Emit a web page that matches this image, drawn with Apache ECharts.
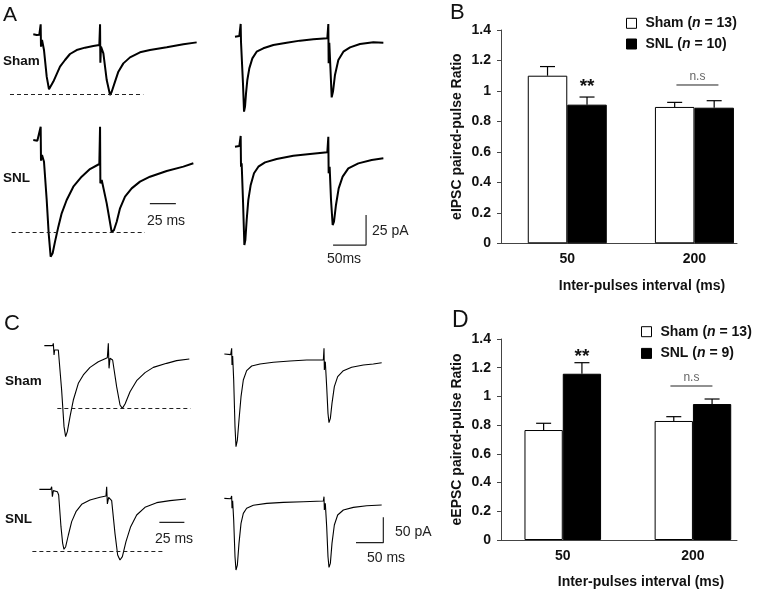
<!DOCTYPE html>
<html><head><meta charset="utf-8">
<script src="https://cdn.jsdelivr.net/npm/echarts@6.0.0/dist/echarts.min.js"></script>
<style>html,body{margin:0;padding:0;background:#fff}#c{width:758px;height:591px}</style>
</head><body><div id="c"></div>
<script>
// ---------------- DATA ----------------
// Paired-pulse bar charts
const intervals = ['50', '200'];
const ratioTicks = ['0', '0.2', '0.4', '0.6', '0.8', '1', '1.2', '1.4'];
const ipscSham = [1.10, 0.895];
const ipscShamErr = [0.06, 0.03];
const ipscSnl = [0.91, 0.89];
const ipscSnlErr = [0.05, 0.046];
const epscSham = [0.766, 0.829];
const epscShamErr = [0.047, 0.03];
const epscSnl = [1.158, 0.947];
const epscSnlErr = [0.077, 0.035];
const nIpsc = [13, 10];
const nEpsc = [13, 9];
const sigIpsc = ['**', 'n.s'];
const sigEpsc = ['**', 'n.s'];

// Example traces: [time (ms) from first stimulus, current (pA) from baseline]
const aShortSham = [[-7.1,0],[-3.8,-0.6],[-1.3,-0.3],[0,8.3],[0.3,-10.3],[1.3,-4.7],[3.2,-13.1],[5.8,-35.3],[8.0,-45.8],[9.6,-45],[12.2,-39.4],[15.4,-33.1],[18.6,-26.9],[23.4,-21.4],[28.2,-16.4],[34.6,-13.1],[42.6,-11.1],[50.6,-9.7],[56.4,-8.9],[57.1,8.3],[57.4,-23.6],[58.0,-10.3],[60.3,-15.8],[63.5,-38.1],[66.7,-50.6],[68.3,-47.8],[71.5,-39.4],[74.7,-31.1],[79.5,-24.2],[85.9,-19.2],[95.5,-15],[105.1,-13.1],[121.2,-10.8],[137.2,-8.3],[150,-6.7]];
const aShortSnl = [[-7.1,0],[-3.2,-0.6],[-1.3,-0.3],[0,11.1],[0.3,-17.2],[1.3,-12.5],[3.2,-18.1],[5.8,-50],[7.7,-77.8],[9.6,-97.2],[11.5,-94.4],[13.8,-84.7],[17,-72.2],[20.2,-61.1],[25,-50],[31.4,-38.9],[39.4,-30.6],[47.4,-24.2],[56.4,-20],[57.1,11.1],[57.4,-36.1],[58.7,-33.3],[60.3,-34.7],[63.5,-52.8],[68.3,-76.9],[70.5,-75],[73.1,-68.1],[76.3,-56.9],[81.1,-47.2],[87.5,-40.3],[95.5,-34.7],[105.1,-30.6],[121.2,-25.8],[137.2,-22.2],[146.8,-19.4]];
const aLongSham = [[-8.6,0],[-2,0.6],[0,10.6],[0.5,-4.2],[2,-5.6],[3.5,-38.9],[5.1,-62.5],[6.6,-58.3],[8.1,-47.2],[10.1,-36.1],[13.1,-26.4],[17.7,-18.1],[24.2,-12.5],[34.3,-9.7],[49.5,-6.9],[69.7,-5],[89.9,-3.3],[110.1,-2.2],[131.3,-1.4],[132.8,10.6],[133.3,-22.2],[134.3,-5],[135.9,-25],[137.9,-50.6],[139.9,-45.8],[142.9,-31.9],[148,-19.4],[155.6,-12.5],[165.7,-8.9],[180.8,-6.1],[201,-4.7],[216.2,-5]];
const aLongSnl = [[-8.6,0],[-2,0.6],[0,8.9],[0.5,-16.7],[1.5,-13.9],[3.5,-44.4],[5.6,-81.9],[7.1,-77.8],[9.1,-61.1],[11.6,-44.4],[15.2,-31.9],[20.2,-22.2],[26.8,-16.7],[36.9,-13.1],[54.5,-10.3],[79.8,-7.5],[105.1,-6.1],[131.3,-4.7],[132.8,8.3],[133.3,-22.2],[134.8,-16.7],[136.9,-44.4],[139.4,-65.3],[141.4,-62.5],[144.4,-48.6],[148.5,-34.7],[154.5,-25],[163.1,-18.1],[178.3,-13.9],[198.5,-11.1],[216.2,-9.7]];
const cShortSham = [[-9,0],[-0.7,0],[0,4.6],[0.7,-18.4],[1.3,-8.5],[5,-8.5],[6,-11.8],[8.3,-87.3],[10.7,-159.4],[12.3,-179.1],[14,-169.3],[16.7,-139.8],[20,-107],[25,-74.1],[30,-57.7],[36.7,-42.7],[45,-31.5],[54,-23.6],[55,4.6],[55.7,-44.6],[56.7,-24.9],[59.3,-28.2],[63.3,-80.7],[66.7,-116.8],[69,-123.4],[71.7,-114.8],[76.7,-90.6],[83.3,-68.9],[91.7,-53.1],[100,-42.7],[113.3,-34.8],[123.3,-29.5],[136,-26.2]];
const cShortSnl = [[-12.3,0],[-1,0],[0,5.2],[0.7,-14.4],[1.7,-2.6],[5.7,-4.6],[7,-11.2],[9.3,-73.5],[11,-106.3],[12.3,-118.1],[14,-112.9],[16.7,-89.9],[20,-63.6],[24.3,-44],[30,-29.5],[38.3,-21],[48.3,-15.7],[54.3,-13.1],[55,5.2],[55.7,-28.9],[57,-15.7],[60,-22.3],[63.3,-86.6],[66,-129.3],[68.3,-139.1],[70.7,-132.5],[74.3,-103],[79,-73.5],[85,-50.5],[93.3,-35.4],[105,-26.2],[118.3,-22.3],[134.3,-19]];
const cLongSham = [[-13.4,0],[-1.8,-1.3],[0,11.2],[0.6,-21.7],[1.8,-3.9],[3.7,-51.3],[6.1,-143.4],[7.9,-182.9],[10.4,-169.7],[13.4,-130.3],[17.1,-84.2],[21.3,-51.3],[27.4,-32.9],[36.6,-23.7],[51.8,-19.7],[76.2,-16.4],[106.7,-13.8],[137.2,-11.8],[167.7,-11.8],[168.9,11.2],[169.5,-31.6],[171.3,-15.1],[173.8,-64.5],[176.2,-117.1],[178,-135.5],[180.5,-126.9],[183.5,-97.4],[187.8,-64.5],[193.9,-44.7],[204.3,-32.9],[219.5,-26.3],[240.9,-21.7],[259.1,-19.7],[274.4,-17.1]];
const cLongSnl = [[-13.4,0],[-1.8,-0.7],[0,4.6],[0.6,-19.7],[1.8,-4.6],[3.7,-42.8],[6.1,-115.1],[7.9,-141.4],[10.4,-131.6],[13.4,-88.8],[17.1,-49.3],[21.3,-29.6],[27.4,-19.7],[39.6,-13.8],[64,-9.9],[94.5,-7.9],[131.1,-6.6],[167.7,-5.3],[168.9,3.3],[169.5,-23],[171.3,-9.9],[173.8,-55.9],[176.2,-115.1],[178,-136.2],[180.5,-128.3],[183.5,-88.8],[187.8,-52.6],[193.9,-32.9],[204.3,-23],[222.6,-17.8],[247,-14.5],[274.4,-13.2]];

// Reference (dashed) levels: [pA level, from ms, to ms]
const dashAShortSham = [-50, -29.5, 98.7];
const dashAShortSnl = [-76.9, -27.9, 100.3];
const dashCShortSham = [-123.4, 4, 137.3];
const dashCShortSnl = [-122.7, -19.3, 113.3];

// Scale bars [ms, pA]
const scaleAShort = [[105, -53], [130, -53]];
const scaleALong = [[140, -82], [190, -82], [190, -57]];
const scaleCShort = [[107.7, -65], [132.7, -65]];
const scaleCLong = [[227.4, -87.5], [277.4, -87.5], [277.4, -37.5]];

// ---------------- BUILD ----------------
const FONT = 'Liberation Sans, Arial, Helvetica, sans-serif';
const grids = [], xAxes = [], yAxes = [], series = [], legends = [];

function traceGrid(L) {
  const g = grids.length;
  grids.push({left: L.xStim + L.t[0] * L.pxMs, top: L.yBase - L.i[1] * L.pxPA,
    width: (L.t[1] - L.t[0]) * L.pxMs, height: (L.i[1] - L.i[0]) * L.pxPA});
  xAxes.push({type: 'value', gridIndex: g, min: L.t[0], max: L.t[1], show: false});
  yAxes.push({type: 'value', gridIndex: g, min: L.i[0], max: L.i[1], show: false});
  return g;
}
function trace(g, data, width, dash) {
  const s = {type: 'line', xAxisIndex: g, yAxisIndex: g, data: data, showSymbol: false, symbol: 'none',
    silent: true, lineStyle: {color: '#000', width: width}, z: 3};
  if (dash) {
    s.markLine = {silent: true, symbol: ['none', 'none'], label: {show: false},
      lineStyle: {color: '#222', type: [4, 3], width: 1.2},
      data: [[{coord: [dash[1], dash[0]]}, {coord: [dash[2], dash[0]]}]]};
  }
  series.push(s);
}
function scaleBar(g, pts) {
  series.push({type: 'line', xAxisIndex: g, yAxisIndex: g, data: pts, showSymbol: false, symbol: 'none',
    silent: true, lineStyle: {color: '#222', width: 1.2}});
}

// Panel A (eIPSC)
const gAS1 = traceGrid({xStim: 40.67, yBase: 34.33, pxMs: 1.04, pxPA: 1.2, t: [-35, 155], i: [-60, 12]});
const gAS2 = traceGrid({xStim: 40.67, yBase: 140, pxMs: 1.04, pxPA: 1.2, t: [-35, 155], i: [-105, 15]});
const gAL1 = traceGrid({xStim: 240.67, yBase: 36.67, pxMs: 0.66, pxPA: 1.2, t: [-15, 225], i: [-70, 15]});
const gAL2 = traceGrid({xStim: 240.67, yBase: 146.67, pxMs: 0.66, pxPA: 1.2, t: [-15, 225], i: [-90, 15]});
trace(gAS1, aShortSham, 2, dashAShortSham);
trace(gAS2, aShortSnl, 2, dashAShortSnl);
trace(gAL1, aLongSham, 2);
trace(gAL2, aLongSnl, 2);
scaleBar(gAS2, scaleAShort);
scaleBar(gAL2, scaleALong);

// Panel C (eEPSC)
const gCS1 = traceGrid({xStim: 53.33, yBase: 345.67, pxMs: 1.0, pxPA: 0.508, t: [-25, 145], i: [-190, 10]});
const gCS2 = traceGrid({xStim: 51.67, yBase: 489.33, pxMs: 1.0, pxPA: 0.508, t: [-25, 145], i: [-150, 10]});
const gCL1 = traceGrid({xStim: 231.67, yBase: 354, pxMs: 0.5467, pxPA: 0.507, t: [-20, 290], i: [-195, 15]});
const gCL2 = traceGrid({xStim: 231.67, yBase: 498.33, pxMs: 0.5467, pxPA: 0.507, t: [-20, 290], i: [-150, 15]});
trace(gCS1, cShortSham, 1.1, dashCShortSham);
trace(gCS2, cShortSnl, 1.1, dashCShortSnl);
trace(gCL1, cLongSham, 1.1);
trace(gCL2, cLongSnl, 1.1);
scaleBar(gCS2, scaleCShort);
scaleBar(gCL2, scaleCLong);

// Bar panels
function barPanel(P) {
  const ga = grids.length;
  grids.push(P.axesGrid);
  xAxes.push({type: 'category', gridIndex: ga, data: intervals, axisLine: {lineStyle: {color: '#444', width: 1}},
    axisTick: {show: false}, axisLabel: {show: false}});
  yAxes.push({type: 'value', gridIndex: ga, min: 0, max: 1.4, interval: 0.2,
    name: P.yName, nameLocation: 'middle', nameGap: 37,
    nameTextStyle: {fontFamily: FONT, fontSize: 14, fontWeight: 'bold', color: '#111'},
    axisLine: {show: true, lineStyle: {color: '#444', width: 1}},
    axisTick: {show: true, length: 4, lineStyle: {color: '#444'}},
    axisLabel: {margin: 10, fontFamily: FONT, fontSize: 14, fontWeight: 'bold', color: '#111',
      formatter: (v, i) => ratioTicks[i]},
    splitLine: {show: false}});
  const gb = grids.length;
  grids.push(P.barsGrid);
  xAxes.push({type: 'category', gridIndex: gb, data: intervals, axisLine: {show: false}, axisTick: {show: false},
    axisLabel: {margin: 9, fontFamily: FONT, fontSize: 14, fontWeight: 'bold', color: '#111'}});
  yAxes.push({type: 'value', gridIndex: gb, min: 0, max: 1.4, show: false});
  const bw = P.bw;
  series.push({type: 'bar', name: P.key + 'Sham', xAxisIndex: gb, yAxisIndex: gb, data: P.sham, barWidth: bw, barGap: '0%',
    itemStyle: {color: '#fff', borderColor: '#000', borderWidth: 1}});
  series.push({type: 'bar', name: P.key + 'SNL', xAxisIndex: gb, yAxisIndex: gb, data: P.snl, barWidth: bw, barGap: '0%',
    itemStyle: {color: '#000', borderColor: '#000', borderWidth: 1}});
  function errSeries(means, errs, off) {
    series.push({type: 'custom', xAxisIndex: gb, yAxisIndex: gb, clip: false, silent: true, z: 4,
      data: means.map((m, k) => [k, m, errs[k]]),
      renderItem: (params, api) => {
        const c = api.value(0), m = api.value(1), e = api.value(2);
        const p0 = api.coord([c, m]), p1 = api.coord([c, m + e]);
        const x = p0[0] + off;
        const st = {stroke: '#000', lineWidth: 1.2};
        return {type: 'group', children: [
          {type: 'line', shape: {x1: x, y1: p0[1], x2: x, y2: p1[1]}, style: st},
          {type: 'line', shape: {x1: x - 7.5, y1: p1[1], x2: x + 7.5, y2: p1[1]}, style: st}]};
      }});
  }
  errSeries(P.sham, P.shamErr, -bw / 2);
  errSeries(P.snl, P.snlErr, bw / 2);
  series.push({type: 'custom', xAxisIndex: gb, yAxisIndex: gb, clip: false, silent: true, z: 5,
    data: [[0, P.snl[0] + P.snlErr[0]], [1, Math.max(P.sham[1] + P.shamErr[1], P.snl[1] + P.snlErr[1])]],
    renderItem: (params, api) => {
      const p = api.coord([api.value(0), api.value(1)]);
      if (params.dataIndex === 0) {
        return {type: 'text', x: p[0] + bw / 2, y: p[1] - P.starGap,
          style: {text: P.sig[0], fontSize: 19, fontWeight: 'bold', fontFamily: FONT, fill: '#111',
            align: 'center', verticalAlign: 'middle'}};
      }
      const y = p[1] - P.nsGap;
      return {type: 'group', children: [
        {type: 'line', shape: {x1: p[0] - 21 + P.nsShift, y1: y, x2: p[0] + 21 + P.nsShift, y2: y}, style: {stroke: '#222', lineWidth: 1}},
        {type: 'text', x: p[0] + P.nsShift, y: y - 8.5, style: {text: P.sig[1], fontSize: 12, fontFamily: FONT, fill: '#666',
          align: 'center', verticalAlign: 'middle'}}]};
    }});
  legends.push({orient: 'vertical', left: P.legLeft, top: P.legTop, padding: 0, itemWidth: 10, itemHeight: 10, itemGap: P.legGap,
    icon: 'rect', selectedMode: false, data: [P.key + 'Sham', P.key + 'SNL'],
    itemStyle: {borderWidth: 1},
    formatter: name => name.endsWith('Sham') ? '{t| Sham (}{i|n}{t| = ' + P.n[0] + ')}' : '{t| SNL (}{i|n}{t| = ' + P.n[1] + ')}',
    textStyle: {fontFamily: FONT, fontSize: 14, fontWeight: 'bold', color: '#111',
      rich: {t: {fontFamily: FONT, fontSize: 14, fontWeight: 'bold', color: '#111'},
             i: {fontFamily: FONT, fontSize: 14, fontWeight: 'bold', fontStyle: 'italic', color: '#111'}}}});
}

barPanel({key: 'B', yName: 'eIPSC paired-pulse Ratio', sham: ipscSham, shamErr: ipscShamErr, snl: ipscSnl, snlErr: ipscSnlErr,
  n: nIpsc, sig: sigIpsc, bw: 39.5, starGap: 10, nsGap: 15.7, nsShift: 3,
  axesGrid: {left: 501, top: 30, width: 236, height: 213.3},
  barsGrid: {left: 503.7, top: 30, width: 255.7, height: 213.3},
  legLeft: 626, legTop: 16.3, legGap: 6.7});
barPanel({key: 'D', yName: 'eEPSC paired-pulse Ratio', sham: epscSham, shamErr: epscShamErr, snl: epscSnl, snlErr: epscSnlErr,
  n: nEpsc, sig: sigEpsc, bw: 38.3, starGap: 6, nsGap: 13, nsShift: -1.5,
  axesGrid: {left: 501, top: 339, width: 236, height: 201},
  barsGrid: {left: 497.7, top: 339, width: 262.7, height: 201},
  legLeft: 641, legTop: 324.7, legGap: 7.7});

// Text annotations
function txt(text, x, y, size, opts) {
  opts = opts || {};
  return {type: 'text', x: x, y: y, silent: true, z: 10,
    style: {text: text, fontSize: size, fontFamily: FONT, fontWeight: opts.bold ? 'bold' : 'normal',
      fill: opts.color || '#111', align: opts.align || 'left', verticalAlign: 'middle'}};
}
const graphics = [
  txt('A', 3, 15, 21), txt('B', 450, 13, 22), txt('C', 4, 324, 22), txt('D', 452, 321, 23),
  txt('Sham', 3, 61, 13.5, {bold: true}), txt('SNL', 3, 178, 13.5, {bold: true}),
  txt('Sham', 5, 381, 13.5, {bold: true}), txt('SNL', 5, 519, 13.5, {bold: true}),
  txt('25 ms', 166, 221, 14, {align: 'center', color: '#222'}),
  txt('25 pA', 372, 231, 14, {color: '#222'}),
  txt('50ms', 344, 259, 14, {align: 'center', color: '#222'}),
  txt('25 ms', 174, 539, 14, {align: 'center', color: '#222'}),
  txt('50 pA', 395, 532, 14, {color: '#222'}),
  txt('50 ms', 386, 558, 14, {align: 'center', color: '#222'}),
  txt('Inter-pulses interval (ms)', 642, 286, 14, {bold: true, align: 'center'}),
  txt('Inter-pulses interval (ms)', 641, 582, 14, {bold: true, align: 'center'})
];

const option = {
  animation: false,
  backgroundColor: '#fff',
  textStyle: {fontFamily: FONT},
  grid: grids, xAxis: xAxes, yAxis: yAxes, series: series, legend: legends,
  graphic: {elements: graphics}
};
const chart = echarts.init(document.getElementById('c'), null, {renderer: 'canvas'});
chart.setOption(option);
</script></body></html>
